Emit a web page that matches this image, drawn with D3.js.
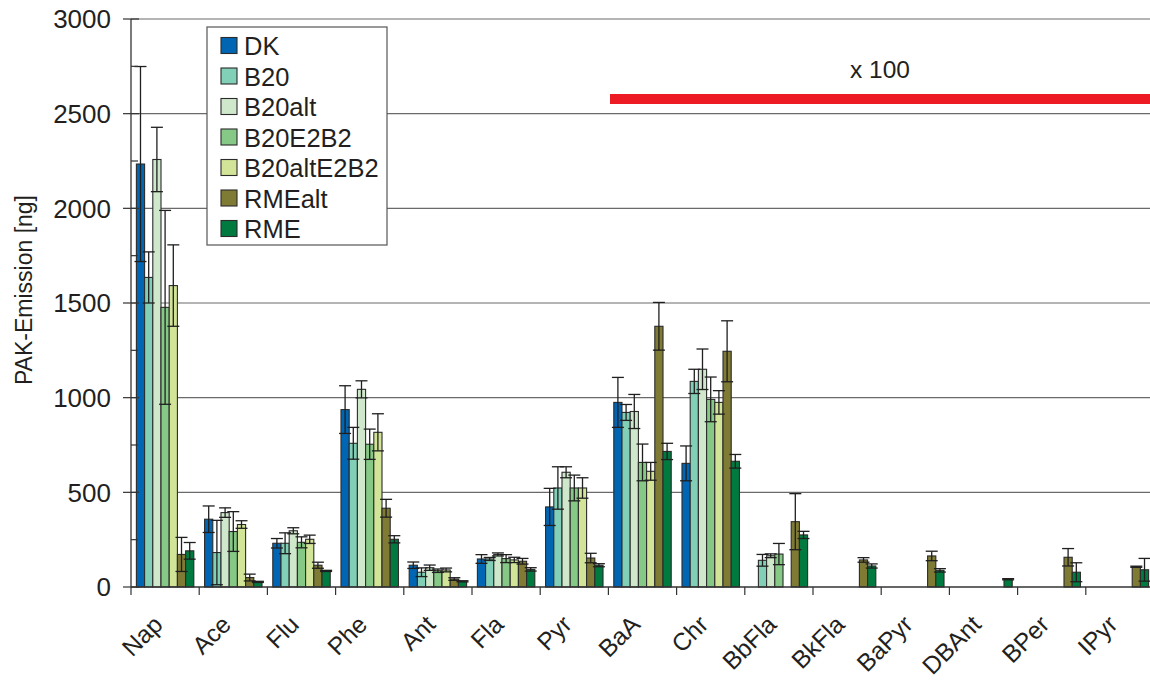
<!DOCTYPE html>
<html>
<head>
<meta charset="utf-8">
<script src="https://cdn.jsdelivr.net/npm/d3@7"></script>
<style>
  html, body { margin: 0; padding: 0; background: #fff; }
  svg { display: block; font-family: "Liberation Sans", Arial, sans-serif; }
</style>
</head>
<body>
<svg id="chart" width="1150" height="680"></svg>
<script>
const categories = ["Nap","Ace","Flu","Phe","Ant","Fla","Pyr","BaA","Chr","BbFla","BkFla","BaPyr","DBAnt","BPer","IPyr"];
const seriesNames = ["DK","B20","B20alt","B20E2B2","B20altE2B2","RMEalt","RME"];
const seriesColors = ["#0066b3","#80cfb6","#cfe8cb","#86c986","#d2e497","#7f7b35","#007a3f"];

const valDK         = [2234, 358, 231, 937, 115, 148, 423,  975,  653,   0,   0,   0,  0,   0,   0];
const valB20        = [1635, 182, 231, 759,  78, 148, 523,  922, 1086, 141,   0,   0,  0,   0,   0];
const valB20alt     = [2258, 393, 297,1044, 102, 172, 606,  927, 1150, 165,   0,   0,  0,   0,   0];
const valB20E2B2    = [1477, 293, 236, 754,  86, 150, 523,  658,  991, 174,   0,   0,  0,   0,   0];
const valB20altE2B2 = [1592, 330, 252, 817,  90, 143, 523,  611,  975,   0,   0,   0,  0,   0,   0];
const valRMEalt     = [ 172,  50, 115, 416,  42, 136, 153, 1377, 1245, 345, 143, 164,  0, 157, 107];
const valRME        = [ 191,  27,  85, 252,  30,  93, 115,  716,  664, 275, 111,  88, 41,  78,  91];

const errDK         = [515,  70, 25, 126, 17, 23,  98, 132,  92,   0,  0,  0, 0,  0,  0];
const errB20        = [135, 170, 55,  84, 23,  8, 112,  42,  64,  31,  0,  0, 0,  0,  0];
const errB20alt     = [170,  25, 16,  45, 14,  8,  29,  90, 107,  10,  0,  0, 0,  0,  0];
const errB20E2B2    = [512, 105, 29,  80,  9, 21,  68,  97, 118,  56,  0,  0, 0,  0,  0];
const errB20altE2B2 = [215,  20, 22,  98, 10, 14,  54,  47,  62,   0,  0,  0, 0,  0,  0];
const errRMEalt     = [ 90,  18, 16,  47,  7, 15,  25, 126, 161, 148, 12, 25, 0, 46,  3];
const errRME        = [ 44,   3,  3,  19,  3,  9,   8,  43,  36,  19, 11,  9, 3, 50, 60];

const yTicks = [0, 500, 1000, 1500, 2000, 2500, 3000];
const yMinorTicks = [250, 750, 1250, 1750, 2250, 2750];
const yLabel = "PAK-Emission [ng]";
const noteText = "x 100";

const values = [valDK, valB20, valB20alt, valB20E2B2, valB20altE2B2, valRMEalt, valRME];
const errors = [errDK, errB20, errB20alt, errB20E2B2, errB20altE2B2, errRMEalt, errRME];

const svg = d3.select("#chart");
const pLeft = 131, pRight = 1154, pTop = 19, pBottom = 587;

const x = d3.scaleBand().domain(categories).range([pLeft, pRight]).padding(0);
const xs = d3.scaleBand().domain(seriesNames)
  .range([x.bandwidth() * 0.079, x.bandwidth() * 0.921]).padding(0);
const y = d3.scaleLinear().domain([0, 3000]).range([pBottom, pTop]);

// grid
svg.append("g").selectAll("line").data(yTicks.filter(d => d > 0)).join("line")
  .attr("x1", pLeft).attr("x2", 1150)
  .attr("y1", d => y(d)).attr("y2", d => y(d))
  .attr("stroke", "#6a6a6a").attr("stroke-width", 1.2);

// red marker line
svg.append("line").attr("x1", 610).attr("x2", 1150).attr("y1", 99).attr("y2", 99)
  .attr("stroke", "#ed1c24").attr("stroke-width", 10);
svg.append("text").attr("x", 850).attr("y", 78).attr("font-size", 24.5).attr("fill", "#231f20")
  .text(noteText);

// bars
const flat = [];
categories.forEach((c, ci) => {
  seriesNames.forEach((s, si) => {
    flat.push({c, s, si, v: values[si][ci], e: errors[si][ci]});
  });
});

svg.append("g").selectAll("rect").data(flat).join("rect")
  .attr("x", d => x(d.c) + xs(d.s))
  .attr("y", d => y(d.v))
  .attr("width", xs.bandwidth())
  .attr("height", d => y(0) - y(d.v))
  .attr("fill", d => seriesColors[d.si])
  .attr("stroke", "#2b2b2b").attr("stroke-width", 1.1);

// error bars
const eb = svg.append("g").attr("stroke", "#1f1f1f").attr("stroke-width", 1.3);
flat.filter(d => d.e > 0).forEach(d => {
  const cx = x(d.c) + xs(d.s) + xs.bandwidth() / 2;
  const hi = y(d.v + d.e), lo = y(Math.max(0, d.v - d.e));
  eb.append("line").attr("x1", cx).attr("x2", cx).attr("y1", hi).attr("y2", lo);
  eb.append("line").attr("x1", cx - 6).attr("x2", cx + 6).attr("y1", hi).attr("y2", hi);
  eb.append("line").attr("x1", cx - 6).attr("x2", cx + 6).attr("y1", lo).attr("y2", lo);
});

// y axis
const yAxis = svg.append("g");
yAxis.append("line").attr("x1", pLeft).attr("x2", pLeft).attr("y1", pTop).attr("y2", pBottom)
  .attr("stroke", "#333").attr("stroke-width", 1.3);
yAxis.selectAll("line.major").data(yTicks).join("line").attr("class", "major")
  .attr("x1", pLeft - 8).attr("x2", pLeft + 8)
  .attr("y1", d => y(d)).attr("y2", d => y(d))
  .attr("stroke", "#333").attr("stroke-width", 1.2);
yAxis.selectAll("line.minor").data(yMinorTicks).join("line").attr("class", "minor")
  .attr("x1", pLeft).attr("x2", pLeft + 7)
  .attr("y1", d => y(d)).attr("y2", d => y(d))
  .attr("stroke", "#333").attr("stroke-width", 1.2);
yAxis.selectAll("text").data(yTicks).join("text")
  .attr("x", 111).attr("y", d => y(d)).attr("dy", "0.36em")
  .attr("text-anchor", "end").attr("font-size", 26).attr("fill", "#231f20")
  .text(d => d);

// x axis
const xAxis = svg.append("g");
xAxis.append("line").attr("x1", pLeft).attr("x2", 1150).attr("y1", pBottom).attr("y2", pBottom)
  .attr("stroke", "#333").attr("stroke-width", 1.3);
xAxis.selectAll("line.tick").data(categories).join("line").attr("class", "tick")
  .attr("x1", d => x(d)).attr("x2", d => x(d))
  .attr("y1", pBottom).attr("y2", pBottom + 8)
  .attr("stroke", "#333").attr("stroke-width", 1.2);
xAxis.selectAll("text").data(categories).join("text")
  .attr("transform", d => `translate(${x(d) + x.bandwidth() / 2 - 1},626) rotate(-45)`)
  .attr("text-anchor", "end").attr("font-size", 24.5).attr("fill", "#231f20")
  .text(d => d);

// y label
svg.append("text").attr("transform", "translate(32,290) rotate(-90)")
  .attr("text-anchor", "middle").attr("font-size", 23).attr("fill", "#231f20")
  .text(yLabel);

// legend
const lg = svg.append("g");
lg.append("rect").attr("x", 207).attr("y", 27).attr("width", 180).attr("height", 218)
  .attr("fill", "#fff").attr("stroke", "#555").attr("stroke-width", 1.2);
seriesNames.forEach((s, i) => {
  const cy = 46 + i * 30.5;
  lg.append("rect").attr("x", 221).attr("y", cy - 8.5).attr("width", 16).attr("height", 16)
    .attr("fill", seriesColors[i]).attr("stroke", "#2b2b2b").attr("stroke-width", 1.1);
  lg.append("text").attr("x", 244).attr("y", cy).attr("dy", "0.36em")
    .attr("font-size", 25.5).attr("fill", "#231f20").text(s);
});
</script>
</body>
</html>
